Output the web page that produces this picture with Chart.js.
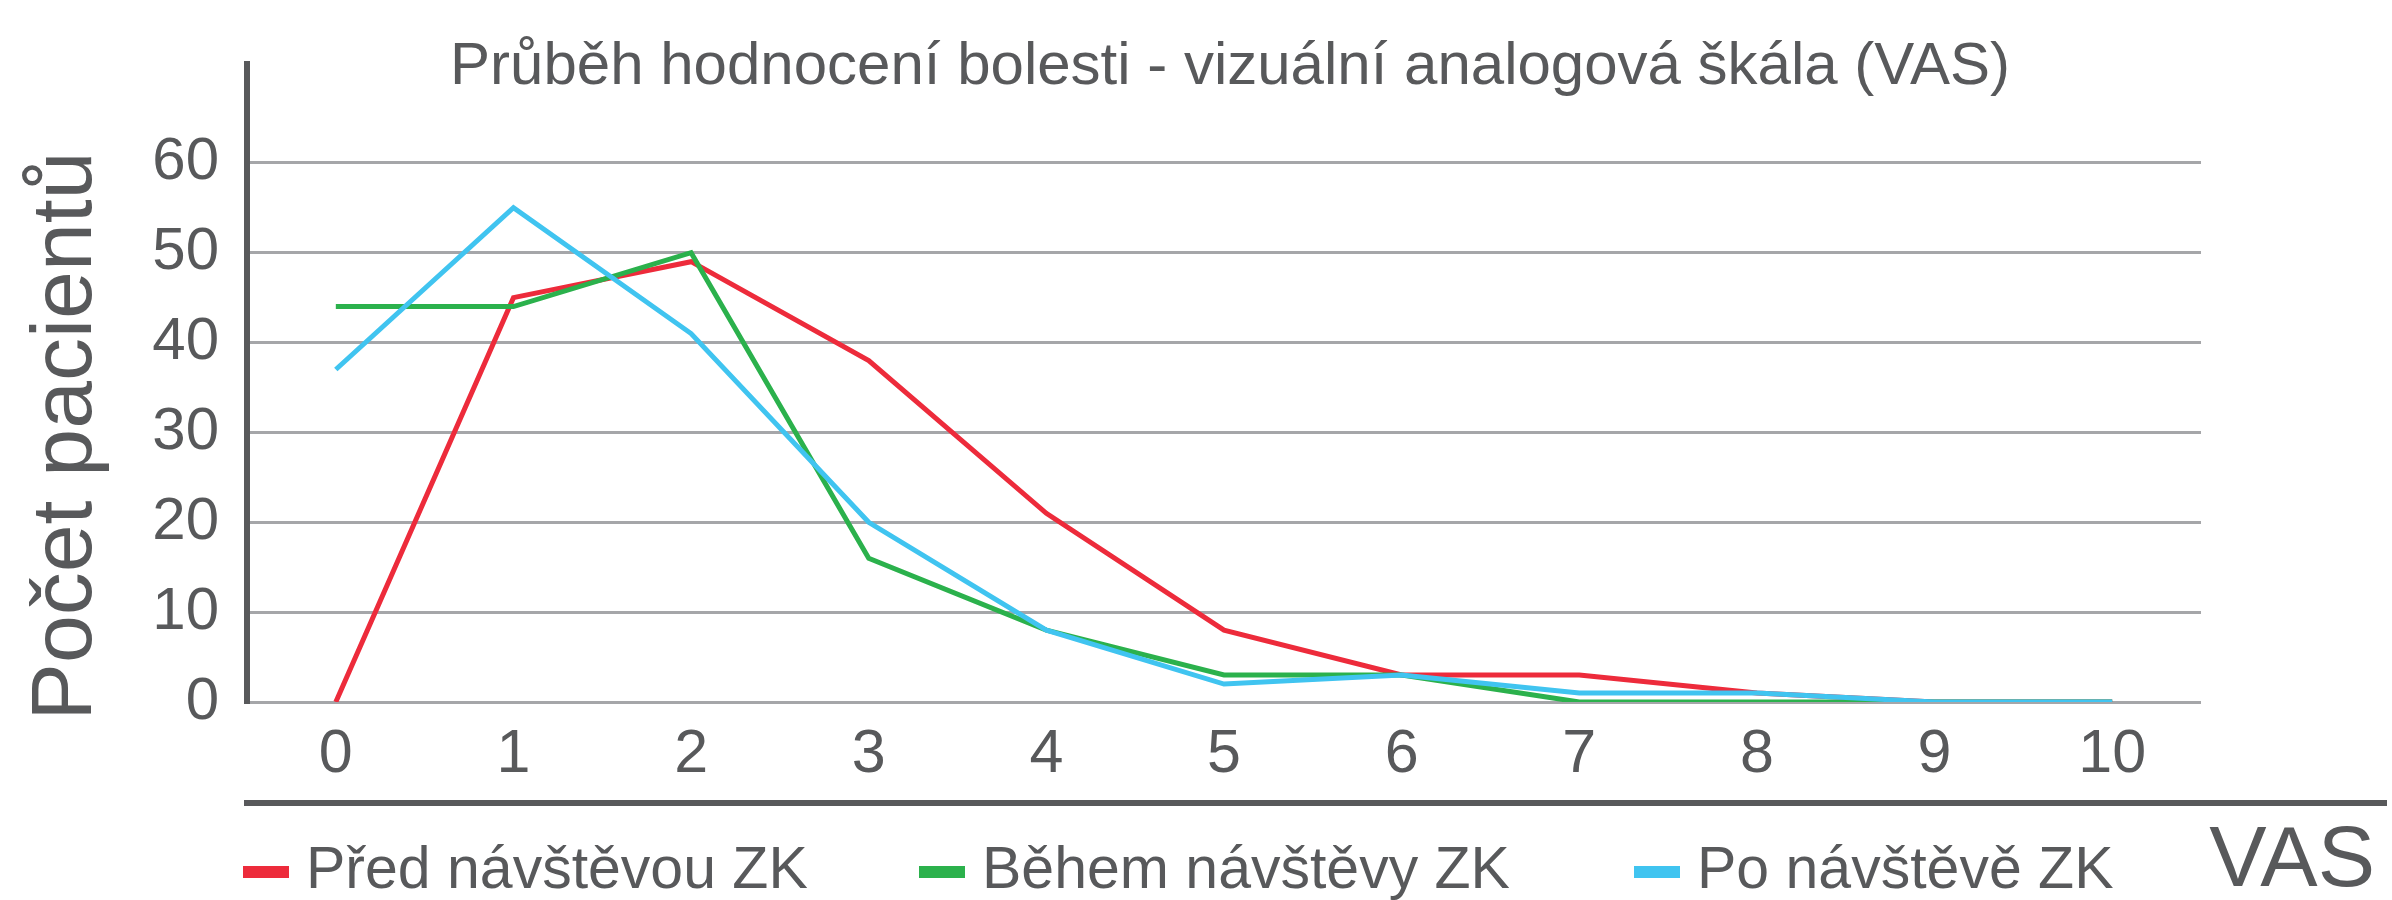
<!DOCTYPE html>
<html>
<head>
<meta charset="utf-8">
<script src="https://cdn.jsdelivr.net/npm/chart.js@4"></script>
<style>
  html, body { margin: 0; padding: 0; background: #fff; }
  #wrap { width: 2392px; height: 900px; position: relative; }
</style>
</head>
<body>
<div id="wrap"><canvas id="vasChart" width="2392" height="900"></canvas></div>
<script>
// VAS score categories on the x axis
const vasScores = ['0', '1', '2', '3', '4', '5', '6', '7', '8', '9', '10'];

// number of patients per VAS score
const beforeVisit = [0, 45, 49, 38, 21, 8, 3, 3, 1, 0, 0];
const duringVisit = [44, 44, 50, 16, 8, 3, 3, 0, 0, 0, 0];
const afterVisit = [37, 55, 41, 20, 8, 2, 3, 1, 1, 0, 0];

const seriesLabels = ['Před návštěvou ZK', 'Během návštěvy ZK', 'Po návštěvě ZK'];
const yTicks = [0, 10, 20, 30, 40, 50, 60];

const chartTitle = 'Průběh hodnocení bolesti - vizuální analogová škála (VAS)';
const yTitle = 'Počet pacientů';
const xTitle = 'VAS';

const TEXT = '#58595b';
const GRID = '#a5a6a9';
const FONT = "'Liberation Sans', Arial, sans-serif";

// legend item start x (marker), fixed to match the original layout
const legendX = [243, 919, 1634];

const extras = {
  id: 'extras',
  afterDraw(chart) {
    const ctx = chart.ctx;
    ctx.save();
    ctx.fillStyle = TEXT;

    // chart title
    ctx.font = '60px ' + FONT;
    ctx.textAlign = 'center';
    ctx.textBaseline = 'middle';
    ctx.fillText(chartTitle, 1230, 67);

    // y axis title, rotated
    ctx.save();
    ctx.translate(67, 436);
    ctx.rotate(-Math.PI / 2);
    ctx.font = '86px ' + FONT;
    ctx.fillText(yTitle, 0, 0);
    ctx.restore();

    // thick rule below the x labels
    ctx.fillRect(244, 800, 2143, 6);

    // legend, ordered as in the original
    const ds = chart.data.datasets.slice().reverse();
    ctx.font = '59px ' + FONT;
    ctx.textAlign = 'left';
    ds.forEach((d, i) => {
      ctx.fillStyle = d.borderColor;
      ctx.fillRect(legendX[i], 866, 46, 12);
      ctx.fillStyle = TEXT;
      ctx.fillText(d.label, legendX[i] + 63, 872);
    });

    // x axis title at bottom right
    ctx.font = '86px ' + FONT;
    ctx.textAlign = 'right';
    ctx.fillText(xTitle, 2375, 862);
    ctx.restore();
  }
};

new Chart(document.getElementById('vasChart'), {
  type: 'line',
  data: {
    labels: vasScores,
    // drawn last-to-first, so the blue series ends up on top
    datasets: [
      { label: seriesLabels[2], data: afterVisit, borderColor: '#40c4f0' },
      { label: seriesLabels[1], data: duringVisit, borderColor: '#2bb14c' },
      { label: seriesLabels[0], data: beforeVisit, borderColor: '#ed2b3b' }
    ].map(d => ({
      ...d,
      borderWidth: 5,
      pointRadius: 0,
      pointHoverRadius: 0,
      tension: 0,
      fill: false,
      borderJoinStyle: 'miter'
    }))
  },
  options: {
    responsive: false,
    animation: false,
    layout: { padding: { top: 58, right: 191, left: 0, bottom: 0 } },
    plugins: {
      legend: { display: false },
      tooltip: { enabled: false },
      title: { display: false }
    },
    scales: {
      x: {
        offset: true,
        grid: { display: false, drawTicks: false },
        border: { display: false },
        ticks: { color: TEXT, font: { family: FONT, size: 61 }, padding: 17, maxRotation: 0 },
        afterFit(scale) { scale.height = 198; }
      },
      y: {
        min: 0,
        max: 71,
        ticks: {
          stepSize: 10,
          color: TEXT,
          font: { family: FONT, size: 60 },
          padding: 28
        },
        afterBuildTicks(scale) {
          scale.ticks = yTicks.map(v => ({ value: v }));
        },
        grid: { color: GRID, lineWidth: 3, drawTicks: false },
        border: { display: true, color: TEXT, width: 6 },
        afterFit(scale) { scale.width = 247; }
      }
    }
  },
  plugins: [extras]
});
</script>
</body>
</html>
